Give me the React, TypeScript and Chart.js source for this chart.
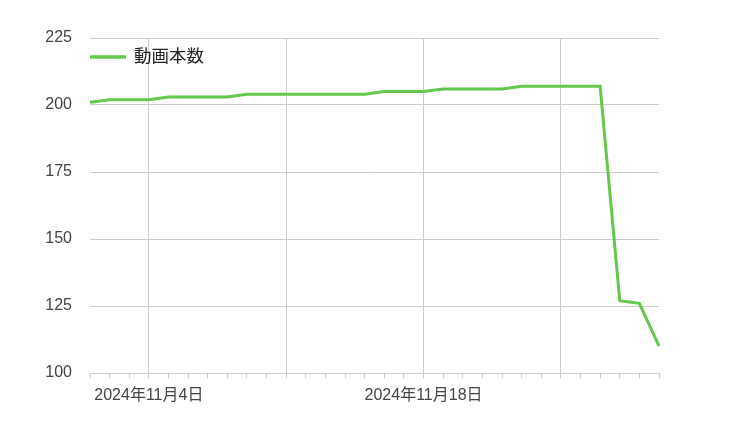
import React, { useEffect, useRef } from "react";
import { Chart, registerables } from "chart.js";

Chart.register(...registerables);

const dates: string[] = [
  "2024-11-01", "2024-11-02", "2024-11-03", "2024-11-04", "2024-11-05",
  "2024-11-06", "2024-11-07", "2024-11-08", "2024-11-09", "2024-11-10",
  "2024-11-11", "2024-11-12", "2024-11-13", "2024-11-14", "2024-11-15",
  "2024-11-16", "2024-11-17", "2024-11-18", "2024-11-19", "2024-11-20",
  "2024-11-21", "2024-11-22", "2024-11-23", "2024-11-24", "2024-11-25",
  "2024-11-26", "2024-11-27", "2024-11-28", "2024-11-29", "2024-11-30",
];

const videoCounts: number[] = [
  201, 202, 202, 202, 203, 203, 203, 203, 204, 204,
  204, 204, 204, 204, 204, 205, 205, 205, 206, 206,
  206, 206, 207, 207, 207, 207, 207, 127, 126, 110,
];

const seriesLabel = "動画本数";
const gridDates: string[] = ["2024-11-04", "2024-11-11", "2024-11-18", "2024-11-25"];
const labelDates: string[] = ["2024-11-04", "2024-11-18"];
const yTicks: number[] = [100, 125, 150, 175, 200, 225];

const LINE_COLOR = "#63c84c";
const GRID_COLOR = "#cccccc";
const FONT_FAMILY = "'Liberation Sans', Arial, 'Noto Sans CJK JP', sans-serif";

function formatDate(iso: string): string {
  const [y, m, d] = iso.split("-").map((s) => parseInt(s, 10));
  return `${y}年${m}月${d}日`;
}

const insideLegend = {
  id: "insideLegend",
  afterDraw(chart: any) {
    const ctx = chart.ctx;
    const area = chart.chartArea;
    const ds = chart.data.datasets[0];
    const x0 = area.left;
    const y = area.top + 19;
    ctx.save();
    ctx.strokeStyle = ds.borderColor;
    ctx.lineWidth = 3.5;
    ctx.beginPath();
    ctx.moveTo(x0, y);
    ctx.lineTo(x0 + 36, y);
    ctx.stroke();
    ctx.fillStyle = "#222222";
    ctx.font = `17.5px ${FONT_FAMILY}`;
    ctx.textBaseline = "middle";
    ctx.textAlign = "left";
    ctx.fillText(ds.label, x0 + 44, y);
    ctx.restore();
  },
};

export default function App() {
  const canvasRef = useRef<HTMLCanvasElement | null>(null);

  useEffect(() => {
    if (!canvasRef.current) return;
    const chart = new Chart(canvasRef.current, {
      type: "line",
      data: {
        labels: dates,
        datasets: [
          {
            label: seriesLabel,
            data: videoCounts,
            borderColor: LINE_COLOR,
            backgroundColor: LINE_COLOR,
            borderWidth: 3,
            pointRadius: 0,
            pointHoverRadius: 0,
            tension: 0,
            fill: false,
          },
        ],
      },
      options: {
        animation: false,
        responsive: true,
        maintainAspectRatio: false,
        layout: { padding: { top: 38, right: 91, left: 0, bottom: 0 } },
        plugins: {
          legend: { display: false },
          tooltip: { enabled: false },
        },
        scales: {
          x: {
            type: "category",
            offset: false,
            afterFit: (scale: any) => {
              scale.height = 61;
            },
            grid: {
              display: true,
              drawOnChartArea: true,
              drawTicks: true,
              tickLength: 5,
              color: (ctx: any) =>
                gridDates.includes(dates[ctx.index]) ? GRID_COLOR : "rgba(0,0,0,0)",
              tickColor: GRID_COLOR,
              lineWidth: 1,
            },
            border: { display: true, color: GRID_COLOR, width: 1 },
            ticks: {
              autoSkip: false,
              maxRotation: 0,
              minRotation: 0,
              padding: 8,
              color: "#444444",
              font: { family: FONT_FAMILY, size: 16 },
              callback: (_v: any, i: number) =>
                labelDates.includes(dates[i]) ? formatDate(dates[i]) : "",
            },
          },
          y: {
            min: yTicks[0],
            max: yTicks[yTicks.length - 1],
            afterFit: (scale: any) => {
              scale.width = 90;
            },
            afterBuildTicks: (scale: any) => {
              scale.ticks = yTicks.map((v) => ({ value: v }));
            },
            grid: {
              color: GRID_COLOR,
              drawTicks: false,
              lineWidth: 1,
            },
            border: { display: false },
            ticks: {
              padding: 18,
              color: "#444444",
              font: { family: FONT_FAMILY, size: 16 },
            },
          },
        },
      },
      plugins: [insideLegend],
    });
    return () => chart.destroy();
  }, []);

  return (
    <div style={{ position: "absolute", left: 0, top: 0, width: 750, height: 434, background: "#ffffff" }}>
      <canvas ref={canvasRef} />
    </div>
  );
}
